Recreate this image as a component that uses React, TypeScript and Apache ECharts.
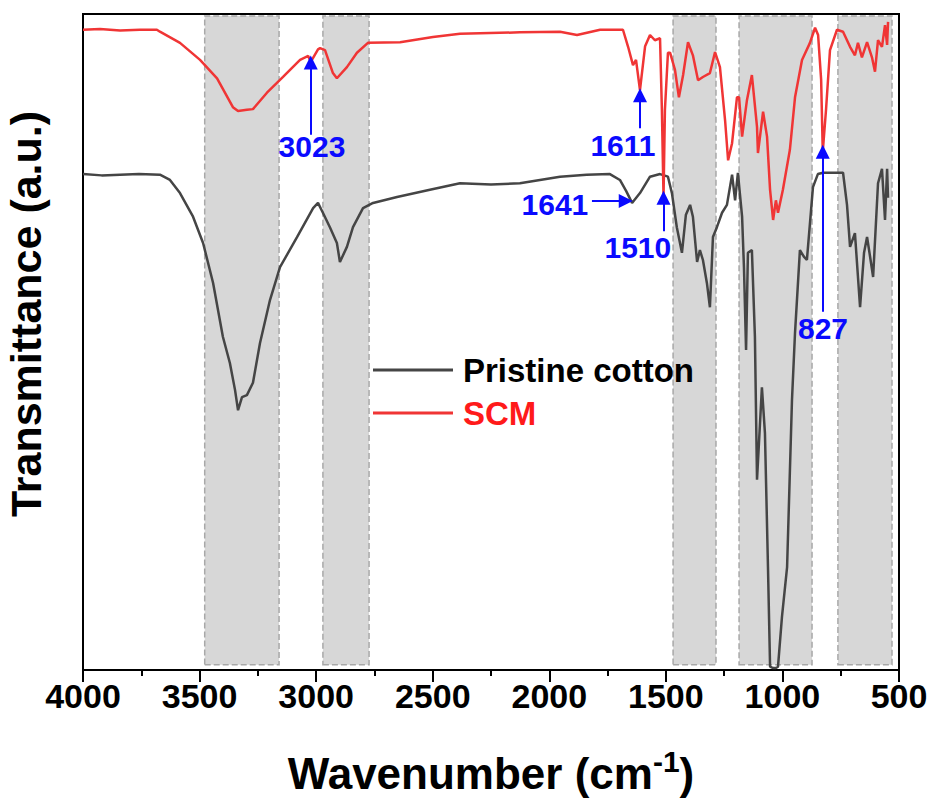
import React, { useEffect, useRef } from "react";
import * as echarts from "echarts";

// Wavenumber (cm-1) vs transmittance (a.u.)
const cottonSpectrum: [number, number][] = [
  [4000, 75.6], [3920, 75.4], [3841, 75.5], [3760, 75.6], [3670, 75.5], [3627, 74.7], [3584, 72.7],
  [3528, 69.1], [3485, 65.1], [3442, 59.0], [3400, 50.8], [3370, 46.8], [3348, 42.7], [3335, 39.6],
  [3318, 41.6], [3297, 41.9], [3271, 43.8], [3241, 49.8], [3198, 56.4], [3155, 61.4], [3082, 66.0],
  [3013, 70.4], [2992, 71.2], [2971, 69.7], [2941, 67.5], [2911, 65.1], [2898, 62.2], [2868, 64.5],
  [2842, 67.5], [2799, 70.4], [2756, 71.2], [2653, 72.1], [2512, 73.2], [2383, 74.2], [2250, 74.0],
  [2126, 74.2], [1954, 75.2], [1840, 75.5], [1740, 75.6], [1697, 74.7], [1670, 73.0], [1645, 71.2],
  [1611, 72.7], [1568, 75.2], [1525, 75.6], [1491, 75.2], [1474, 72.7], [1453, 67.5], [1431, 63.6],
  [1414, 69.4], [1396, 70.9], [1384, 69.1], [1366, 62.2], [1354, 64.0], [1341, 62.5], [1324, 59.0],
  [1311, 55.3], [1298, 66.0], [1281, 67.5], [1259, 69.7], [1238, 70.9], [1216, 75.5], [1203, 71.6],
  [1191, 75.8], [1173, 69.1], [1165, 61.4], [1156, 48.8], [1148, 63.6], [1131, 64.0], [1118, 50.8],
  [1109, 29.0], [1088, 43.1], [1075, 36.1], [1062, 15.7], [1053, 0.5], [1040, 0.3], [1028, 0.3],
  [1019, 0.5], [1002, 8.1], [980, 15.7], [959, 41.2], [946, 51.4], [925, 64.0], [908, 63.0],
  [895, 62.5], [869, 73.6], [848, 75.6], [826, 75.8], [780, 75.8], [740, 75.8], [723, 70.9],
  [710, 64.5], [689, 66.6], [667, 55.3], [650, 63.6], [637, 66.0], [624, 63.0], [611, 59.9],
  [590, 74.2], [573, 76.4], [560, 68.6], [551, 76.4], [547, 72.0],
];

const scmSpectrum: [number, number][] = [
  [4000, 97.6], [3927, 97.7], [3841, 97.5], [3756, 97.6], [3683, 97.6], [3670, 97.3], [3584, 95.6],
  [3498, 93.0], [3425, 90.2], [3357, 85.8], [3335, 85.2], [3297, 85.4], [3271, 85.5], [3211, 88.0],
  [3142, 90.4], [3069, 93.0], [3034, 93.6], [3023, 92.7], [2992, 94.6], [2983, 94.8], [2962, 94.5],
  [2928, 91.0], [2911, 90.2], [2868, 91.9], [2825, 94.1], [2778, 95.6], [2640, 95.7], [2499, 96.5],
  [2383, 97.0], [2126, 97.2], [1954, 97.3], [1881, 96.8], [1782, 97.6], [1684, 97.6], [1662, 95.0],
  [1641, 92.2], [1628, 93.0], [1611, 88.4], [1589, 95.1], [1568, 96.8], [1547, 96.0], [1525, 96.3],
  [1517, 85.4], [1510, 72.1], [1504, 85.4], [1491, 94.1], [1482, 94.1], [1461, 91.5], [1444, 87.3],
  [1426, 90.7], [1405, 95.7], [1384, 93.7], [1362, 89.9], [1341, 90.4], [1311, 91.0], [1289, 94.2],
  [1268, 91.9], [1246, 83.8], [1233, 77.7], [1216, 80.3], [1195, 87.3], [1186, 87.3], [1173, 81.3],
  [1152, 86.9], [1131, 90.7], [1109, 82.8], [1105, 78.8], [1083, 85.1], [1066, 81.3], [1053, 73.2],
  [1040, 68.6], [1028, 71.6], [1019, 69.7], [998, 73.2], [968, 79.3], [946, 87.3], [916, 93.0],
  [882, 95.6], [860, 97.9], [847, 96.8], [834, 90.0], [827, 79.0], [813, 85.4], [796, 94.5],
  [766, 97.6], [740, 97.3], [710, 95.0], [689, 93.7], [676, 95.6], [659, 93.4], [637, 95.7],
  [616, 93.4], [603, 91.2], [590, 96.0], [573, 95.0], [560, 98.3], [551, 95.3], [547, 98.8],
];

const seriesNames = ["Pristine cotton", "SCM"];
const seriesColors = ["#454545", "#f03535"];

// Highlighted wavenumber bands [from, to]
const bands: [number, number][] = [
  [3478, 3159], [2971, 2773], [1469, 1285], [1186, 873], [762, 530],
];

// Peak annotations: label, arrow tail [x, y], arrow tip [x, y], label anchor [x, y]
const peakLabels = ["3023", "1611", "1641", "1510", "827"];
const arrowTails: [number, number][] = [[3023, 81.6], [1611, 82.6], [1817, 71.5], [1510, 66.9], [827, 54.6]];
const arrowTips: [number, number][] = [[3023, 92.6], [1611, 87.6], [1672, 71.5], [1510, 72.0], [827, 79.0]];
const labelAnchors: [number, number][] = [[3018, 79.8], [1684, 79.9], [1976, 71.0], [1620, 64.4], [826, 52.0]];

const FONT = "'Liberation Sans', Arial, Helvetica, sans-serif";

export default function App() {
  const ref = useRef<HTMLDivElement>(null);

  useEffect(() => {
    if (!ref.current) return;
    const chart = echarts.init(ref.current, null, { renderer: "svg" });

    const option: any = {
      animation: false,
      backgroundColor: "#ffffff",
      grid: {
        left: 83, right: 29, top: 14, bottom: 134,
        containLabel: false,
        outerBoundsMode: "none",
        show: true, borderColor: "#000", borderWidth: 2, backgroundColor: "transparent",
      },
      legend: {
        orient: "vertical",
        left: 373,
        top: 350,
        padding: 0,
        itemGap: 3,
        itemWidth: 80,
        itemHeight: 3,
        icon: "rect",
        textStyle: {
          fontFamily: FONT, fontWeight: "bold", fontSize: 33, lineHeight: 40,
          padding: [0, 0, 0, 5],
        },
        data: [
          { name: seriesNames[0], textStyle: { color: "#000" } },
          { name: seriesNames[1], textStyle: { color: "#ff1a1a" } },
        ],
      },
      xAxis: {
        type: "value",
        inverse: true,
        min: 500,
        max: 4000,
        interval: 500,
        name: "{a|Wavenumber (cm}{b|-1}{a|)}",
        nameLocation: "middle",
        nameGap: 76,
        nameTextStyle: {
          rich: {
            a: { fontFamily: FONT, fontWeight: "bold", fontSize: 44, color: "#000", lineHeight: 54 },
            b: { fontFamily: FONT, fontWeight: "bold", fontSize: 30, color: "#000", verticalAlign: "top", lineHeight: 54, padding: [0, 0, 22, 0] },
          },
        },
        axisLine: { show: true, lineStyle: { color: "#000", width: 2 } },
        axisTick: { show: true, inside: false, length: 12, lineStyle: { color: "#000", width: 2 } },
        minorTick: { show: true, splitNumber: 2, length: 6, lineStyle: { color: "#000", width: 2 } },
        axisLabel: {
          fontFamily: FONT, fontWeight: "bold", fontSize: 34, color: "#000", margin: 9,
          formatter: (v: number) => String(v),
        },
        splitLine: { show: false },
      },
      yAxis: {
        type: "value",
        min: 0,
        max: 100,
        name: "Transmittance (a.u.)",
        nameLocation: "middle",
        nameRotate: 90,
        nameGap: 36,
        nameTextStyle: {
          fontFamily: FONT, fontWeight: "bold", fontSize: 43, color: "#000",
          padding: [0, 0, 0, 56],
        },
        axisLine: { show: true, lineStyle: { color: "#000", width: 2 } },
        axisTick: { show: false },
        axisLabel: { show: false },
        splitLine: { show: false },
      },
      series: [
        {
          name: seriesNames[0],
          type: "line",
          data: cottonSpectrum,
          showSymbol: false,
          symbol: "none",
          color: seriesColors[0],
          lineStyle: { color: seriesColors[0], width: 2.5 },
          z: 2,
        },
        {
          name: seriesNames[1],
          type: "line",
          data: scmSpectrum,
          showSymbol: false,
          symbol: "none",
          color: seriesColors[1],
          lineStyle: { color: seriesColors[1], width: 2.5 },
          z: 2,
        },
        {
          name: "bands",
          type: "line",
          data: [],
          z: 3,
          markArea: {
            silent: true,
            itemStyle: {
              color: "rgba(150,150,150,0.38)",
              borderColor: "#a8a8a8",
              borderWidth: 1.5,
              borderType: "dashed",
            },
            data: bands.map(([a, b]) => [
              { xAxis: a, yAxis: 0.8 },
              { xAxis: b, yAxis: 99.7 },
            ]),
          },
        },
        {
          name: "annotations",
          type: "line",
          data: [],
          z: 4,
          markLine: {
            silent: true,
            symbol: ["none", "triangle"],
            symbolSize: 14,
            lineStyle: { color: "#0a0aff", width: 2, type: "solid" },
            itemStyle: { color: "#0a0aff" },
            label: { show: false },
            data: arrowTails.map((t, i) => [
              { coord: t },
              { coord: arrowTips[i] },
            ]),
          },
          markPoint: {
            silent: true,
            symbol: "circle",
            symbolSize: 0,
            itemStyle: { color: "transparent" },
            label: {
              show: true,
              position: "inside",
              formatter: "{b}",
              fontFamily: FONT,
              fontWeight: "bold",
              fontSize: 30,
              color: "#0a0aff",
            },
            data: peakLabels.map((n, i) => ({ name: n, coord: labelAnchors[i] })),
          },
        },
      ],
    };

    chart.setOption(option);
    return () => chart.dispose();
  }, []);

  return (
    <div
      ref={ref}
      style={{ position: "fixed", left: 0, top: 0, width: 928, height: 804, background: "#fff" }}
    />
  );
}
